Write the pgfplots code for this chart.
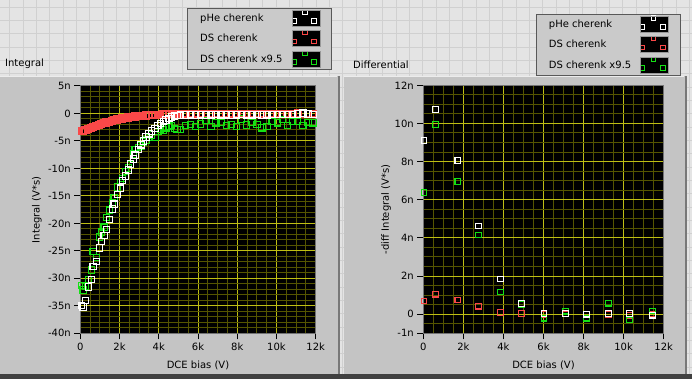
\documentclass[border=0pt]{standalone}
\usepackage{pgfplots}
\usepackage{pgfplotstable}
\pgfplotsset{compat=1.18}
\usepackage{fontspec}
\setmainfont{DejaVu Sans}
\definecolor{bggray}{RGB}{228,228,228}
\definecolor{bgline}{RGB}{208,208,208}
\definecolor{panelgray}{RGB}{196,196,196}
\definecolor{paneldark}{RGB}{120,120,120}
\definecolor{leggray}{RGB}{202,202,202}
\definecolor{majgrid}{RGB}{190,190,20}
\definecolor{mingrid}{RGB}{85,85,0}
\definecolor{lvred}{RGB}{250,72,72}
\definecolor{lvgreen}{RGB}{20,225,20}

\pgfplotstableread{
x w r g
0.07 -34.9 -3.22 -31.3
0.15 -35.2 -3.18 -32.1
0.26 -34.0 -3.05 -31.5
0.41 -31.6 -2.85 -30.2
0.56 -30.2 -2.62 -28.5
0.66 -27.8 -2.48 -25.1
0.82 -26.9 -2.30 -26.2
0.97 -24.5 -2.10 -22.5
1.07 -23.3 -1.98 -21.6
1.22 -22.2 -1.80 -20.7
1.33 -21.1 -1.66 -18.9
1.48 -19.3 -1.50 -17.6
1.63 -17.4 -1.34 -16.2
1.73 -16.5 -1.24 -15.4
1.89 -14.7 -1.10 -13.4
2.04 -13.6 -0.98 -12.6
2.14 -12.2 -0.90 -11.8
2.30 -11.4 -0.82 -10.6
2.45 -10.3 -0.74 -9.9
2.55 -9.2 -0.68 -9.3
2.70 -8.3 -0.61 -7.4
2.80 -7.6 -0.56 -6.6
2.96 -6.6 -0.50 -6.2
3.10 -5.7 -0.45 -5.9
3.21 -5.0 -0.41 -5.2
3.35 -4.3 -0.37 -4.8
3.50 -3.7 -0.33 -4.4
3.64 -3.2 -0.30 -3.9
3.81 -2.7 -0.27 -4.4
3.95 -2.2 -0.24 -3.3
4.08 -1.8 -0.22 -2.9
4.23 -1.5 -0.20 -3.0
4.36 -1.2 -0.18 -2.6
4.51 -0.9 -0.16 -2.4
4.66 -0.65 -0.14 -2.2
4.80 -0.5 -0.12 -2.7
4.93 -0.4 -0.10 -2.9
5.10 -0.32 -0.08 -2.9
5.36 -0.28 -0.07 -2.2
5.62 -0.25 -0.06 -2.0
5.88 -0.27 -0.05 -2.4
6.14 -0.24 -0.05 -1.9
6.40 -0.26 -0.06 -1.3
6.66 -0.25 -0.04 -2.4
6.92 -0.23 -0.05 -1.7
7.18 -0.25 -0.06 -1.6
7.44 -0.24 -0.04 -2.2
7.70 -0.26 -0.05 -2.0
7.96 -0.24 -0.06 -2.4
8.22 -0.22 -0.03 -1.0
8.48 -0.25 -0.05 -2.1
8.74 -0.24 -0.04 -1.6
9.00 -0.23 -0.05 -2.0
9.26 -0.26 -0.06 -2.6
9.52 -0.24 -0.04 -2.4
9.78 -0.22 -0.03 -1.5
10.04 -0.23 -0.04 -1.7
10.30 -0.20 -0.03 -1.1
10.56 -0.21 -0.04 -2.2
10.82 -0.15 -0.03 -1.4
11.08 -0.08 -0.02 -1.5
11.34 0.05 -0.01 -2.2
11.60 -0.12 -0.03 -1.6
11.86 -0.18 -0.04 -1.7
}\integral

\pgfplotstableread{
x w r g
0.03 9.10 0.70 6.38
0.60 10.74 1.05 9.95
1.72 8.05 0.74 6.95
2.75 4.63 0.42 4.16
3.85 1.84 0.10 1.16
4.90 0.56 0.05 0.52
6.02 0.03 0.00 -0.21
7.10 0.05 0.02 0.16
8.15 0.00 0.00 -0.21
9.25 0.05 0.00 0.58
10.30 0.05 -0.05 -0.30
11.45 -0.05 0.00 0.17
}\differential

\pgfplotsset{
  lvimg/.style={legend image code/.code={
    \fill[black] (0pt,-8pt) rectangle (28pt,8pt);
    \begin{scope}
    \clip (0pt,-8pt) rectangle (28pt,8pt);
    \draw[#1, line width=1pt] (10.7pt,3.7pt) rectangle (15.2pt,8.6pt);
    \draw[#1, line width=1pt] (-0.6pt,-5.3pt) rectangle (4.2pt,-0.6pt);
    \draw[#1, line width=1pt] (20pt,-5.3pt) rectangle (24.6pt,-0.6pt);
    \end{scope}
    \draw[gray!80, line width=0.6pt] (0pt,-8pt) rectangle (28pt,8pt);
  }},
  lvaxis/.style={
    scale only axis,
    anchor=south west,
    axis background/.style={fill=black},
    xmin=0, xmax=12,
    xtick={0,2,...,12}, xticklabels={0,2k,4k,6k,8k,10k,12k},
    minor x tick num=3,
    grid=both,
    major grid style={majgrid, line width=1pt},
    minor grid style={mingrid, line width=1pt},
    tick align=outside, major tick length=6pt, minor tick length=0pt,
    xtick pos=bottom, ytick pos=left,
    tick style={black, line width=1pt},
    axis line style={black!55, line width=1pt},
    xlabel={DCE bias (V)},
    legend plot pos=right,
    legend cell align=left,
    legend style={anchor=north west, fill=leggray, draw=gray!70!black,
      inner xsep=11pt, inner ysep=1.5pt, row sep=4pt, column sep=7pt},
  },
}

\begin{document}
\fontsize{10}{12}\selectfont
\begin{tikzpicture}[x=1pt,y=1pt]
\useasboundingbox (0,0) rectangle (692,379);
\fill[bggray] (0,0) rectangle (692,379);
\foreach \i in {0,...,51} {\draw[bgline, line width=1pt] ({9.7+13.33*\i},0) -- ++(0,379);}
\foreach \j in {0,...,28} {\draw[bgline, line width=1pt] (0,{371.7-13.33*\j}) -- ++(692,0);}
% panels
\fill[panelgray] (0,5) rectangle (340,303);
\fill[paneldark] (337.5,5) rectangle (340,303);
\draw[white!85!gray, line width=1pt] (0,302.5) -- (337,302.5);
\fill[panelgray] (344,5) rectangle (687,303);
\fill[paneldark] (684.5,5) rectangle (687,303);
\draw[white!85!gray, line width=1pt] (344,302.5) -- (684,302.5);
\fill[black!75] (0,0) rectangle (692,5);
\node[anchor=base west, inner sep=0pt] at (5,312) {Integral};
\node[anchor=base west, inner sep=0pt] at (353,310.5) {Differential};

\begin{axis}[lvaxis,
  at={(80.3pt,45.7pt)}, width=235.4pt, height=247.3pt,
  ymin=-40, ymax=5,
  ytick={-40,-35,...,5},
  yticklabels={-40n,-35n,-30n,-25n,-20n,-15n,-10n,-5n,0,5n},
  minor y tick num=4,
  ylabel={Integral (V*s)},
  ylabel style={at={(axis description cs:-0.184,0.5)}, anchor=center},
  xlabel style={at={(axis description cs:0.5,-0.128)}, anchor=center},
  legend style={at={(axis description cs:0.4533,1.3154)}},
]
\addlegendimage{lvimg=white}\addlegendentry{pHe cherenk}
\addlegendimage{lvimg=lvred}\addlegendentry{DS cherenk}
\addlegendimage{lvimg=lvgreen}\addlegendentry{DS cherenk x9.5}
\addplot[only marks, mark=square, mark size=3.2pt, lvred, line width=1.8pt, forget plot] table[x=x, y=r] {\integral};
\addplot[only marks, mark=square, mark size=3.2pt, lvgreen, line width=1.1pt, forget plot] table[x=x, y=g] {\integral};
\addplot[only marks, mark=square, mark size=3.2pt, white, line width=1.1pt, forget plot] table[x=x, y=w] {\integral};
\end{axis}

\begin{axis}[lvaxis,
  at={(423.3pt,45.7pt)}, width=240.4pt, height=248pt,
  ymin=-1, ymax=12,
  ytick={-1,0,2,4,6,8,10,12},
  yticklabels={-1n,0,2n,4n,6n,8n,10n,12n},
  minor ytick={-0.5,0.5,1,1.5,2.5,3,3.5,4.5,5,5.5,6.5,7,7.5,8.5,9,9.5,10.5,11,11.5},
  ylabel={-diff Integral (V*s)},
  ylabel style={at={(axis description cs:-0.155,0.5)}, anchor=center},
  xlabel style={at={(axis description cs:0.5,-0.128)}, anchor=center},
  legend style={at={(axis description cs:0.4676,1.2875)}},
]
\addlegendimage{lvimg=white}\addlegendentry{pHe cherenk}
\addlegendimage{lvimg=lvred}\addlegendentry{DS cherenk}
\addlegendimage{lvimg=lvgreen}\addlegendentry{DS cherenk x9.5}
\addplot[only marks, mark=square, mark size=2.8pt, lvred, line width=1.1pt, forget plot] table[x=x, y=r] {\differential};
\addplot[only marks, mark=square, mark size=2.8pt, lvgreen, line width=1.1pt, forget plot] table[x=x, y=g] {\differential};
\addplot[only marks, mark=square, mark size=2.8pt, white, line width=1.1pt, forget plot] table[x=x, y=w] {\differential};
\end{axis}
\end{tikzpicture}
\end{document}
